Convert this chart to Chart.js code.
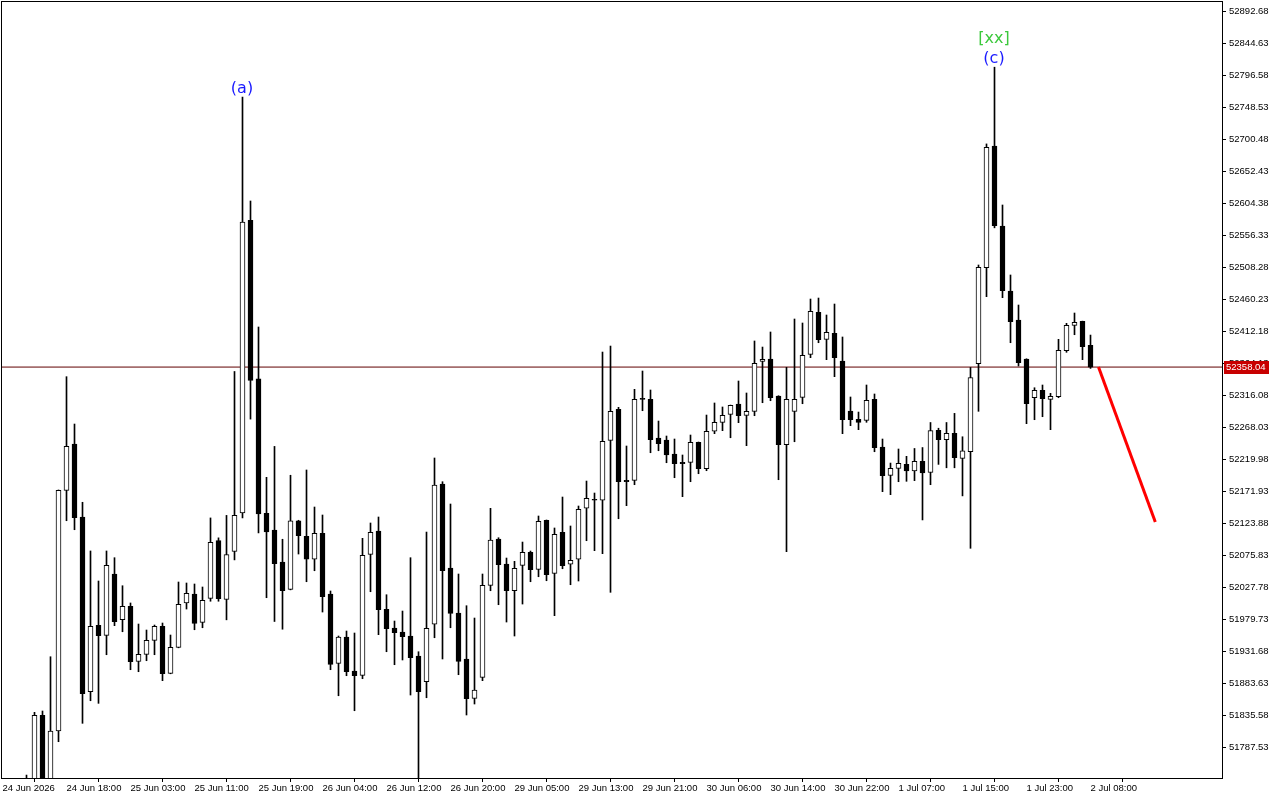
<!DOCTYPE html>
<html>
<head>
<meta charset="utf-8">
<script src="https://cdn.jsdelivr.net/npm/chart.js@4.4.1/dist/chart.umd.min.js"></script>
<style>
  html, body { margin: 0; padding: 0; background: #fff; }
</style>
</head>
<body>
<canvas id="grafico-velas" width="1280" height="800"></canvas>
<script>
// H1 candles, bar index 3 .. 136 (bars 0-2 are below the visible range)
const firstBar = 3;

const opens = [
  51720, 51725, 51835.1, 51730, 51811.6, 52173.0, 52242.5, 52132.9, 51870.5, 51970.3,
  51955.2, 52047.3, 51978.7, 51998.8, 51916.2, 51926.7, 51947.7, 51968.8, 51898.2, 51937.2,
  52003.8, 52017.3, 51974.7, 52010.6, 52097.4, 52009.0, 52081.1, 52138.9, 52578.4, 52340.2,
  52138.4, 52113.2, 52065.3, 52024.3, 52127.3, 52103.9, 52069.4, 52108.4, 52017.3, 51913.2,
  51952.7, 51901.6, 51895.2, 52076.9, 52111.8, 51994.3, 51966.2, 51960.2, 51954.2, 51924.2,
  51885.6, 51971.8, 52182.4, 52056.3, 51988.7, 51919.7, 51860.6, 51892.2, 52030.3, 52099.8,
  52062.3, 52022.2, 52060.3, 52079.9, 52054.3, 52127.9, 52048.3, 52109.9, 52061.9, 52069.4,
  52146.0, 52159.5, 52158.0, 52248.0, 52294.6, 52188.0, 52188.0, 52310.1, 52309.6, 52251.5,
  52248.5, 52227.5, 52215.0, 52215.0, 52245.0, 52205.4, 52261.6, 52275.1, 52287.1, 52302.6,
  52285.6, 52291.6, 52366.7, 52370.1, 52314.6, 52241.5, 52291.6, 52312.6, 52377.2, 52440.2,
  52399.7, 52408.7, 52367.1, 52292.0, 52279.6, 52278.1, 52309.6, 52238.0, 52195.5, 52206.0,
  52211.9, 52202.2, 52216.4, 52199.7, 52263.1, 52248.9, 52258.6, 52221.0, 52231.1, 52363.1,
  52507.2, 52689.9, 52569.8, 52472.2, 52428.7, 52370.1, 52312.0, 52323.1, 52309.6, 52313.5,
  52382.6, 52420.7, 52426.7, 52390.7
];
const highs = [
  51745.4, 51839.6, 51841.6, 51923.1, 52173.5, 52343.6, 52272.5, 52155.0, 52081.9, 52036.8,
  52081.9, 52071.8, 52029.7, 52003.8, 51972.2, 51963.2, 51970.7, 51973.7, 51955.7, 52035.3,
  52033.8, 52032.3, 52027.8, 52131.5, 52101.6, 52135.3, 52351.4, 52763.5, 52607.4, 52418.2,
  52192.5, 52238.9, 52099.5, 52195.6, 52128.0, 52203.5, 52147.9, 52135.9, 52021.8, 51954.2,
  51961.7, 51958.7, 52100.9, 52123.9, 52132.9, 52016.2, 51976.7, 51991.7, 52071.8, 51930.6,
  52110.3, 52221.5, 52185.9, 52152.4, 52047.3, 51999.7, 51981.2, 52047.3, 52145.9, 52101.8,
  52071.3, 52066.3, 52095.3, 52081.8, 52134.4, 52128.4, 52116.4, 52162.9, 52119.4, 52149.4,
  52186.9, 52168.9, 52380.6, 52389.6, 52297.6, 52239.5, 52324.6, 52352.1, 52323.6, 52277.0,
  52254.5, 52250.0, 52226.0, 52256.0, 52245.5, 52286.0, 52304.1, 52298.1, 52301.0, 52337.1,
  52319.1, 52397.2, 52388.1, 52410.7, 52315.0, 52357.6, 52430.2, 52424.2, 52460.2, 52461.7,
  52436.2, 52452.7, 52403.2, 52313.1, 52290.5, 52331.1, 52317.6, 52250.0, 52213.9, 52235.0,
  52224.0, 52235.8, 52237.2, 52274.8, 52266.2, 52274.8, 52288.5, 52253.4, 52357.5, 52511.3,
  52693.1, 52808.3, 52601.4, 52496.3, 52451.2, 52370.5, 52327.0, 52331.1, 52318.6, 52399.7,
  52423.7, 52439.2, 52427.0, 52406.1
];
const lows = [
  51690, 51700, 51700, 51715, 51795.5, 52127.3, 52113.8, 51823.1, 51857.0, 51853.1,
  51926.1, 51969.7, 51960.6, 51903.6, 51900.6, 51917.1, 51926.1, 51887.1, 51897.5, 51936.5,
  51994.7, 51963.6, 51966.6, 52006.4, 52006.4, 51978.5, 52068.5, 52131.5, 52279.9, 52109.0,
  52011.7, 51976.0, 51964.4, 52023.5, 52077.3, 52035.7, 52052.2, 51990.2, 51903.6, 51864.5,
  51894.6, 51842.0, 51890.1, 52020.7, 51956.2, 51930.6, 51911.1, 51918.2, 51865.6, 51738.0,
  51861.5, 51951.6, 51919.7, 51966.6, 51896.1, 51835.6, 51852.1, 51887.1, 52022.2, 52001.2,
  51975.2, 51954.2, 52002.2, 52035.7, 52043.2, 52037.2, 51984.7, 52055.2, 52031.2, 52036.8,
  52097.3, 52082.3, 52077.8, 52019.8, 52130.3, 52149.9, 52181.4, 52292.5, 52229.4, 52232.4,
  52214.4, 52191.9, 52163.4, 52185.9, 52197.9, 52202.4, 52258.0, 52262.5, 52251.9, 52274.5,
  52240.0, 52285.0, 52304.5, 52307.5, 52188.9, 52080.8, 52245.9, 52303.0, 52372.1, 52394.6,
  52369.1, 52343.6, 52258.0, 52270.0, 52264.0, 52275.1, 52230.9, 52170.9, 52166.4, 52185.9,
  52186.5, 52187.5, 52128.5, 52181.4, 52211.9, 52206.8, 52206.8, 52164.6, 52085.9, 52291.6,
  52463.7, 52567.1, 52462.2, 52394.6, 52359.6, 52273.0, 52279.0, 52283.5, 52264.0, 52312.0,
  52380.2, 52406.6, 52369.1, 52356.0
];
const closes = [
  51725, 51835.1, 51730, 51811.6, 52173.0, 52239.0, 52131.8, 51867.5, 51968.8, 51954.6,
  52060.3, 51975.7, 51998.8, 51915.6, 51926.7, 51947.7, 51968.8, 51897.6, 51937.2, 52001.8,
  52018.3, 51973.2, 52007.8, 52094.7, 52010.2, 52076.4, 52135.3, 52575.9, 52338.1, 52137.4,
  52110.5, 52062.8, 52022.2, 52127.3, 52104.8, 52069.4, 52108.4, 52013.2, 51911.7, 51952.7,
  51900.6, 51894.6, 52075.4, 52109.9, 51993.7, 51965.1, 51959.1, 51953.1, 51921.6, 51870.5,
  51965.7, 52180.9, 52052.2, 51988.3, 51916.2, 51860.0, 51873.1, 52030.3, 52098.3, 52061.3,
  52022.2, 52055.8, 52079.9, 52053.7, 52126.4, 52046.2, 52106.9, 52059.7, 52067.9, 52144.4,
  52161.0, 52158.0, 52246.5, 52291.6, 52185.9, 52185.9, 52309.6, 52309.6, 52248.9, 52242.9,
  52226.0, 52212.9, 52212.9, 52245.0, 52205.4, 52261.6, 52275.1, 52285.6, 52300.6, 52285.0,
  52291.6, 52363.7, 52369.7, 52312.0, 52241.5, 52309.6, 52309.6, 52375.7, 52441.7, 52399.1,
  52410.2, 52372.1, 52279.0, 52279.0, 52275.1, 52308.1, 52237.0, 52194.9, 52206.0, 52213.5,
  52202.2, 52216.4, 52199.1, 52262.6, 52248.9, 52258.6, 52221.9, 52232.1, 52342.4, 52507.8,
  52688.0, 52570.3, 52472.7, 52426.1, 52364.6, 52303.0, 52323.1, 52310.5, 52314.1, 52383.2,
  52420.7, 52425.2, 52388.6, 52358.04
];

// time axis: one label every 8 bars, starting at bar 0
const timeLabels = [
  '24 Jun 2026', '24 Jun 18:00', '25 Jun 03:00', '25 Jun 11:00', '25 Jun 19:00', '26 Jun 04:00',
  '26 Jun 12:00', '26 Jun 20:00', '29 Jun 05:00', '29 Jun 13:00', '29 Jun 21:00', '30 Jun 06:00',
  '30 Jun 14:00', '30 Jun 22:00', '1 Jul 07:00', '1 Jul 15:00', '1 Jul 23:00', '2 Jul 08:00'
];
const labelStep = 8;

const priceTicks = [
  52892.68, 52844.63, 52796.58, 52748.53, 52700.48, 52652.43, 52604.38, 52556.33,
  52508.28, 52460.23, 52412.18, 52364.13, 52316.08, 52268.03, 52219.98, 52171.93,
  52123.88, 52075.83, 52027.78, 51979.73, 51931.68, 51883.63, 51835.58, 51787.53
];

const bidPrice = 52358.04;
const forecastBars = [137, 144.1];
const forecastPrices = [52358.04, 52125.4];

// wave marks: bar index, text, colour
const waveBars = [30, 124, 124];
const waveTexts = ['(a)', '(c)', '[xx]'];
const waveColors = ['#1a1aff', '#1a1aff', '#3cc83c'];

const xMin = -0.0625, xMax = 152.4375;
const yMin = 51741.0, yMax = 52906.2;

const bodies = [], wicks = [], bodyColors = [];
opens.forEach((o, k) => {
  const i = firstBar + k;
  bodies.push({ x: i, y: [o, closes[k]] });
  wicks.push({ x: i, y: [lows[k], highs[k]] });
  bodyColors.push(closes[k] >= o ? '#ffffff' : '#000000');
});

const molduraPlugin = {
  id: 'moldura',
  beforeDraw(chart) {
    const c = chart.ctx;
    c.save();
    c.fillStyle = '#ffffff';
    c.fillRect(0, 0, chart.width, chart.height);
    c.restore();
  },
  afterDatasetsDraw(chart) {
    const c = chart.ctx;
    const xs = chart.scales.x, ys = chart.scales.y;
    c.save();
    c.font = '16px "DejaVu Sans"';
    c.textAlign = 'center';
    c.textBaseline = 'middle';
    waveBars.forEach((b, n) => {
      const px = xs.getPixelForValue(b) - 0.5;
      const py = ys.getPixelForValue(highs[b - firstBar]) - 8 - (waveTexts[n] === '[xx]' ? 20 : 0);
      c.fillStyle = waveColors[n];
      c.fillText(waveTexts[n], px, py);
    });
    c.restore();
  },
  afterDraw(chart) {
    const c = chart.ctx;
    const a = chart.chartArea;
    c.save();
    c.strokeStyle = '#000000';
    c.lineWidth = 1;
    c.strokeRect(Math.round(a.left) - 0.5, Math.round(a.top) - 0.5,
      Math.round(a.right - a.left) + 1, Math.round(a.bottom - a.top) + 1);
    // current price box on the price axis
    const py = Math.round(chart.scales.y.getPixelForValue(bidPrice));
    c.fillStyle = '#c80000';
    c.fillRect(a.right + 2, py - 6, 45, 13);
    c.fillStyle = '#ffffff';
    c.font = '9.5px "Liberation Sans"';
    c.textAlign = 'left';
    c.textBaseline = 'middle';
    c.fillText(bidPrice.toFixed(2), a.right + 4, py + 0.5);
    c.restore();
  }
};

const ctx = document.getElementById('grafico-velas').getContext('2d');
new Chart(ctx, {
  type: 'bar',
  data: {
    datasets: [
      {
        type: 'line',
        label: 'forecast',
        data: forecastBars.map((x, n) => ({ x: x, y: forecastPrices[n] })),
        borderColor: '#ff0000',
        borderWidth: 3,
        pointRadius: 0,
        order: 0
      },
      {
        label: 'bodies',
        data: bodies,
        backgroundColor: bodyColors,
        borderColor: '#000000',
        borderWidth: 1,
        borderSkipped: false,
        barThickness: 5,
        minBarLength: 1,
        grouped: false,
        order: 1
      },
      {
        label: 'wicks',
        data: wicks,
        backgroundColor: '#000000',
        borderWidth: 0,
        barThickness: 1,
        grouped: false,
        order: 2
      },
      {
        type: 'line',
        label: 'bid',
        data: [{ x: xMin, y: bidPrice }, { x: xMax, y: bidPrice }],
        borderColor: '#600000',
        borderWidth: 1,
        pointRadius: 0,
        order: 3
      }
    ]
  },
  options: {
    responsive: false,
    animation: false,
    devicePixelRatio: 1,
    layout: { padding: { left: 2, top: 2, right: 0, bottom: 0 } },
    plugins: {
      legend: { display: false },
      tooltip: { enabled: false }
    },
    scales: {
      x: {
        type: 'linear',
        min: xMin,
        max: xMax,
        offset: false,
        afterBuildTicks: scale => {
          scale.ticks = timeLabels.map((t, n) => ({ value: n * labelStep }));
        },
        afterFit: scale => {
          scale.height = 22;
          scale.paddingLeft = 0;
          scale.paddingRight = 0;
        },
        grid: { drawOnChartArea: false, drawTicks: true, tickLength: 4, color: '#000000' },
        border: { display: false },
        ticks: {
          autoSkip: false,
          maxRotation: 0,
          align: 'start',
          padding: 1,
          color: '#000000',
          font: { family: 'Liberation Sans', size: 9.5 },
          callback: value => timeLabels[Math.round(value / labelStep)]
        }
      },
      y: {
        position: 'right',
        min: yMin,
        max: yMax,
        afterBuildTicks: scale => {
          scale.ticks = priceTicks.map(v => ({ value: v }));
        },
        afterFit: scale => {
          scale.width = 58;
          scale.paddingTop = 0;
          scale.paddingBottom = 0;
        },
        grid: { drawOnChartArea: false, drawTicks: true, tickLength: 4, color: '#000000' },
        border: { display: false },
        ticks: {
          padding: 3,
          color: '#000000',
          font: { family: 'Liberation Sans', size: 9.5 },
          callback: value => value.toFixed(2)
        }
      }
    }
  },
  plugins: [molduraPlugin]
});
</script>
</body>
</html>
